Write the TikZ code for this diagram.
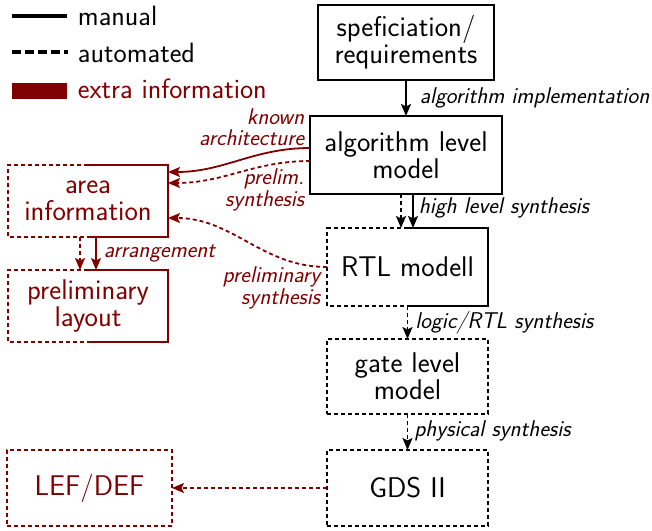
\documentclass[tikz,border=0pt]{standalone}
\usepackage{fontspec}
\usetikzlibrary{arrows.meta}
\definecolor{xred}{RGB}{128,0,0}
\begin{document}
\begin{tikzpicture}[x=1pt,y=-1pt,
  >={Stealth[length=12pt,width=10pt,inset=2.5pt]},
  line width=1.8pt,
  dsh/.style={dash pattern=on 4pt off 3pt},
  box/.style={line width=1.8pt, inner sep=0pt, outer sep=0pt, align=center,
    font=\fontsize{28.5}{27}\selectfont\sffamily},
  lbl/.style={inner sep=2pt, font=\fontsize{22.8}{21.5}\selectfont\sffamily\itshape},
  rlbl/.style={lbl, text=xred, align=right},
  legtxt/.style={inner sep=0pt, font=\fontsize{28}{28}\selectfont\sffamily},
]
\useasboundingbox (0,0) rectangle (652,530);

% legend
\coordinate (m1) at (12,16); \coordinate (m2) at (67,16);
\coordinate (a1) at (12,52); \coordinate (a2) at (68,52);
\draw[line width=4pt] (m1) -- (m2);
\draw[line width=4pt, dash pattern=on 9pt off 4pt] (a1) -- (a2);
\node[fill=xred, inner sep=0pt, minimum width=55pt, minimum height=16pt] (leg3) at (39.5,91) {};
\node[legtxt, anchor=base west] (t1) at (77,25) {manual};
\node[legtxt, anchor=base west] (t2) at (77,62) {automated};
\node[legtxt, anchor=base west, text=xred] (t3) at (77,98) {extra information};

% main column
\node[box, draw, minimum width=176pt, minimum height=75pt] (spec) at (406,42.5) {speficiation/\\requirements};
\node[box, draw, minimum width=192pt, minimum height=78pt] (alg) at (406,155) {algorithm level\\model};
\node[box, minimum width=161pt, minimum height=78pt] (rtl) at (407.5,267) {RTL modell};
\draw[dsh] (rtl.north) -| (rtl.west) |- (rtl.south);
\draw (rtl.north) -| (rtl.east) |- (rtl.south);
\node[box, draw, dsh, minimum width=161pt, minimum height=75pt] (gate) at (407.5,376.5) {gate level\\model};
\node[box, draw, dsh, minimum width=161pt, minimum height=76pt] (gds) at (407.5,488) {GDS II};

% left column
\node[box, text=xred, minimum width=160pt, minimum height=72pt] (area) at (88,201) {area\\information};
\draw[xred, dsh] (area.north) -| (area.west) |- (area.south);
\draw[xred] (area.north) -| (area.east) |- (area.south);
\node[box, text=xred, minimum width=160pt, minimum height=72pt] (play) at (88,306) {preliminary\\layout};
\draw[xred, dsh] (play.north) -| (play.west) |- (play.south);
\draw[xred] (play.north) -| (play.east) |- (play.south);
\node[box, draw=xred, text=xred, dsh, minimum width=165pt, minimum height=76pt] (lef) at (89.5,488) {LEF/DEF};

% main flow
\draw[->] (spec.south) -- node[lbl, right=11pt] {algorithm implementation} (alg.north);
\draw[->, dsh] ([xshift=-5pt]alg.south) -- ([xshift=-5pt]alg.south |- rtl.north);
\draw[->] ([xshift=7pt]alg.south) -- node[lbl, right=3pt, yshift=3pt] {high level synthesis} ([xshift=7pt]alg.south |- rtl.north);
\draw[->, dsh] (rtl.south) -- node[lbl, right=5pt] {logic/RTL synthesis} (gate.north);
\draw[->, dsh] (gate.south) -- node[lbl, right=4pt, yshift=1pt] {physical synthesis} (gds.north);
\draw[->, dsh, xred] (gds.west) -- (lef.east);

% left flow
\draw[->, dsh, xred] ([xshift=-8pt]area.south) -- ([xshift=-8pt]area.south |- play.north);
\draw[->, xred] ([xshift=8pt]area.south) -- node[lbl, text=xred, right=5pt] {arrangement} ([xshift=8pt]area.south |- play.north);

% extra information arrows
\draw[->, xred] ([yshift=7pt]alg.west) to[out=180,in=0] ([yshift=29pt]area.east);
\draw[->, xred, dsh] ([yshift=-6pt]alg.west) to[out=180,in=0] ([yshift=18pt]area.east);
\draw[->, xred, dsh] (rtl.west) to[out=180,in=0] ([yshift=-17pt]area.east);

\node[rlbl, anchor=east] (l1) at (307,127) {known\\architecture};
\node[rlbl, anchor=east] (l2) at (307,190) {prelim.\\synthesis};
\node[rlbl, anchor=east] (l3) at (323,288) {preliminary\\synthesis};
\end{tikzpicture}
\end{document}
